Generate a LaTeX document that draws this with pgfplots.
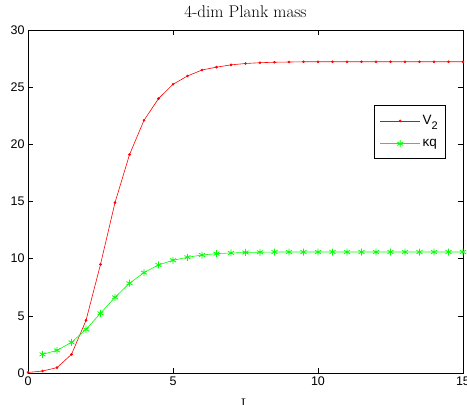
\documentclass[border=0pt]{standalone}
\usepackage{fontspec}
\newfontfamily\arial{Liberation Sans}
\usepackage{pgfplots}
\pgfplotsset{compat=1.18}
\begin{document}
\begin{tikzpicture}
\begin{axis}[
  at={(0,0)}, anchor=south west,
  scale only axis, width=435pt, height=343pt,
  xmin=0, xmax=15, ymin=0, ymax=30,
  xtick={0,5,10,15}, ytick={0,5,10,15,20,25,30},
  tick align=inside, major tick length=5pt,
  tick style={black, line width=0.5pt},
  axis line style={line width=0.8pt},
  ticklabel style={font=\arial\fontsize{12.5}{14}\selectfont},
  /pgf/number format/assume math mode=true,
  title={4-dim Plank mass},
  title style={font=\fontsize{17}{20}\selectfont, at={(0.5,1)}, anchor=base, yshift=7pt},
  xlabel={L},
  xlabel style={font=\fontsize{17}{20}\selectfont, at={(0.5,0)}, anchor=north, yshift=-22pt},
  legend style={at={(0.961,0.781)}, anchor=north east, draw=black, line width=0.8pt,
    font=\arial\fontsize{13.5}{15}\selectfont, legend cell align=left, row sep=9pt,
    inner xsep=6pt, inner ysep=8pt},
  legend image code/.code={\draw[mark repeat=2, mark phase=2, #1] plot coordinates {(0pt,0pt) (20pt,0pt) (40pt,0pt)};},
]
\addplot[red, line width=0.6pt, mark=*, mark size=1pt] coordinates {
(0,0.05) (0.5,0.17) (1,0.47) (1.5,1.63) (2,4.6) (2.5,9.5) (3,14.9) (3.5,19.1)
(4,22.1) (4.5,24.0) (5,25.25) (5.5,25.98) (6,26.5) (6.5,26.75) (7,26.95)
(7.5,27.07) (8,27.14) (8.5,27.18) (9,27.2) (9.5,27.22) (10,27.22) (10.5,27.22)
(11,27.22) (11.5,27.22) (12,27.22) (12.5,27.22) (13,27.22) (13.5,27.22)
(14,27.22) (14.5,27.22) (15,27.22)
};
\addlegendentry{V\raisebox{-0.7ex}{\fontsize{11}{12}\selectfont 2}}
\addplot[color={rgb,255:red,0;green,255;blue,0}, line width=0.6pt, mark=asterisk, mark size=3.5pt,
  mark options={line width=0.8pt}] coordinates {
(0.5,1.63) (1,1.98) (1.5,2.68) (2,3.82) (2.5,5.22) (3,6.62) (3.5,7.85) (4,8.78)
(4.5,9.45) (5,9.86) (5.5,10.12) (6,10.32) (6.5,10.44) (7,10.5) (7.5,10.54)
(8,10.56) (8.5,10.58) (9,10.58) (9.5,10.58) (10,10.58) (10.5,10.58) (11,10.58)
(11.5,10.58) (12,10.58) (12.5,10.58) (13,10.58) (13.5,10.58) (14,10.58)
(14.5,10.58) (15,10.58)
};
\addlegendentry{κq}
\end{axis}
\pgfresetboundingbox
\useasboundingbox (-28pt,-32pt) rectangle (439pt,373pt);
\end{tikzpicture}
\end{document}
